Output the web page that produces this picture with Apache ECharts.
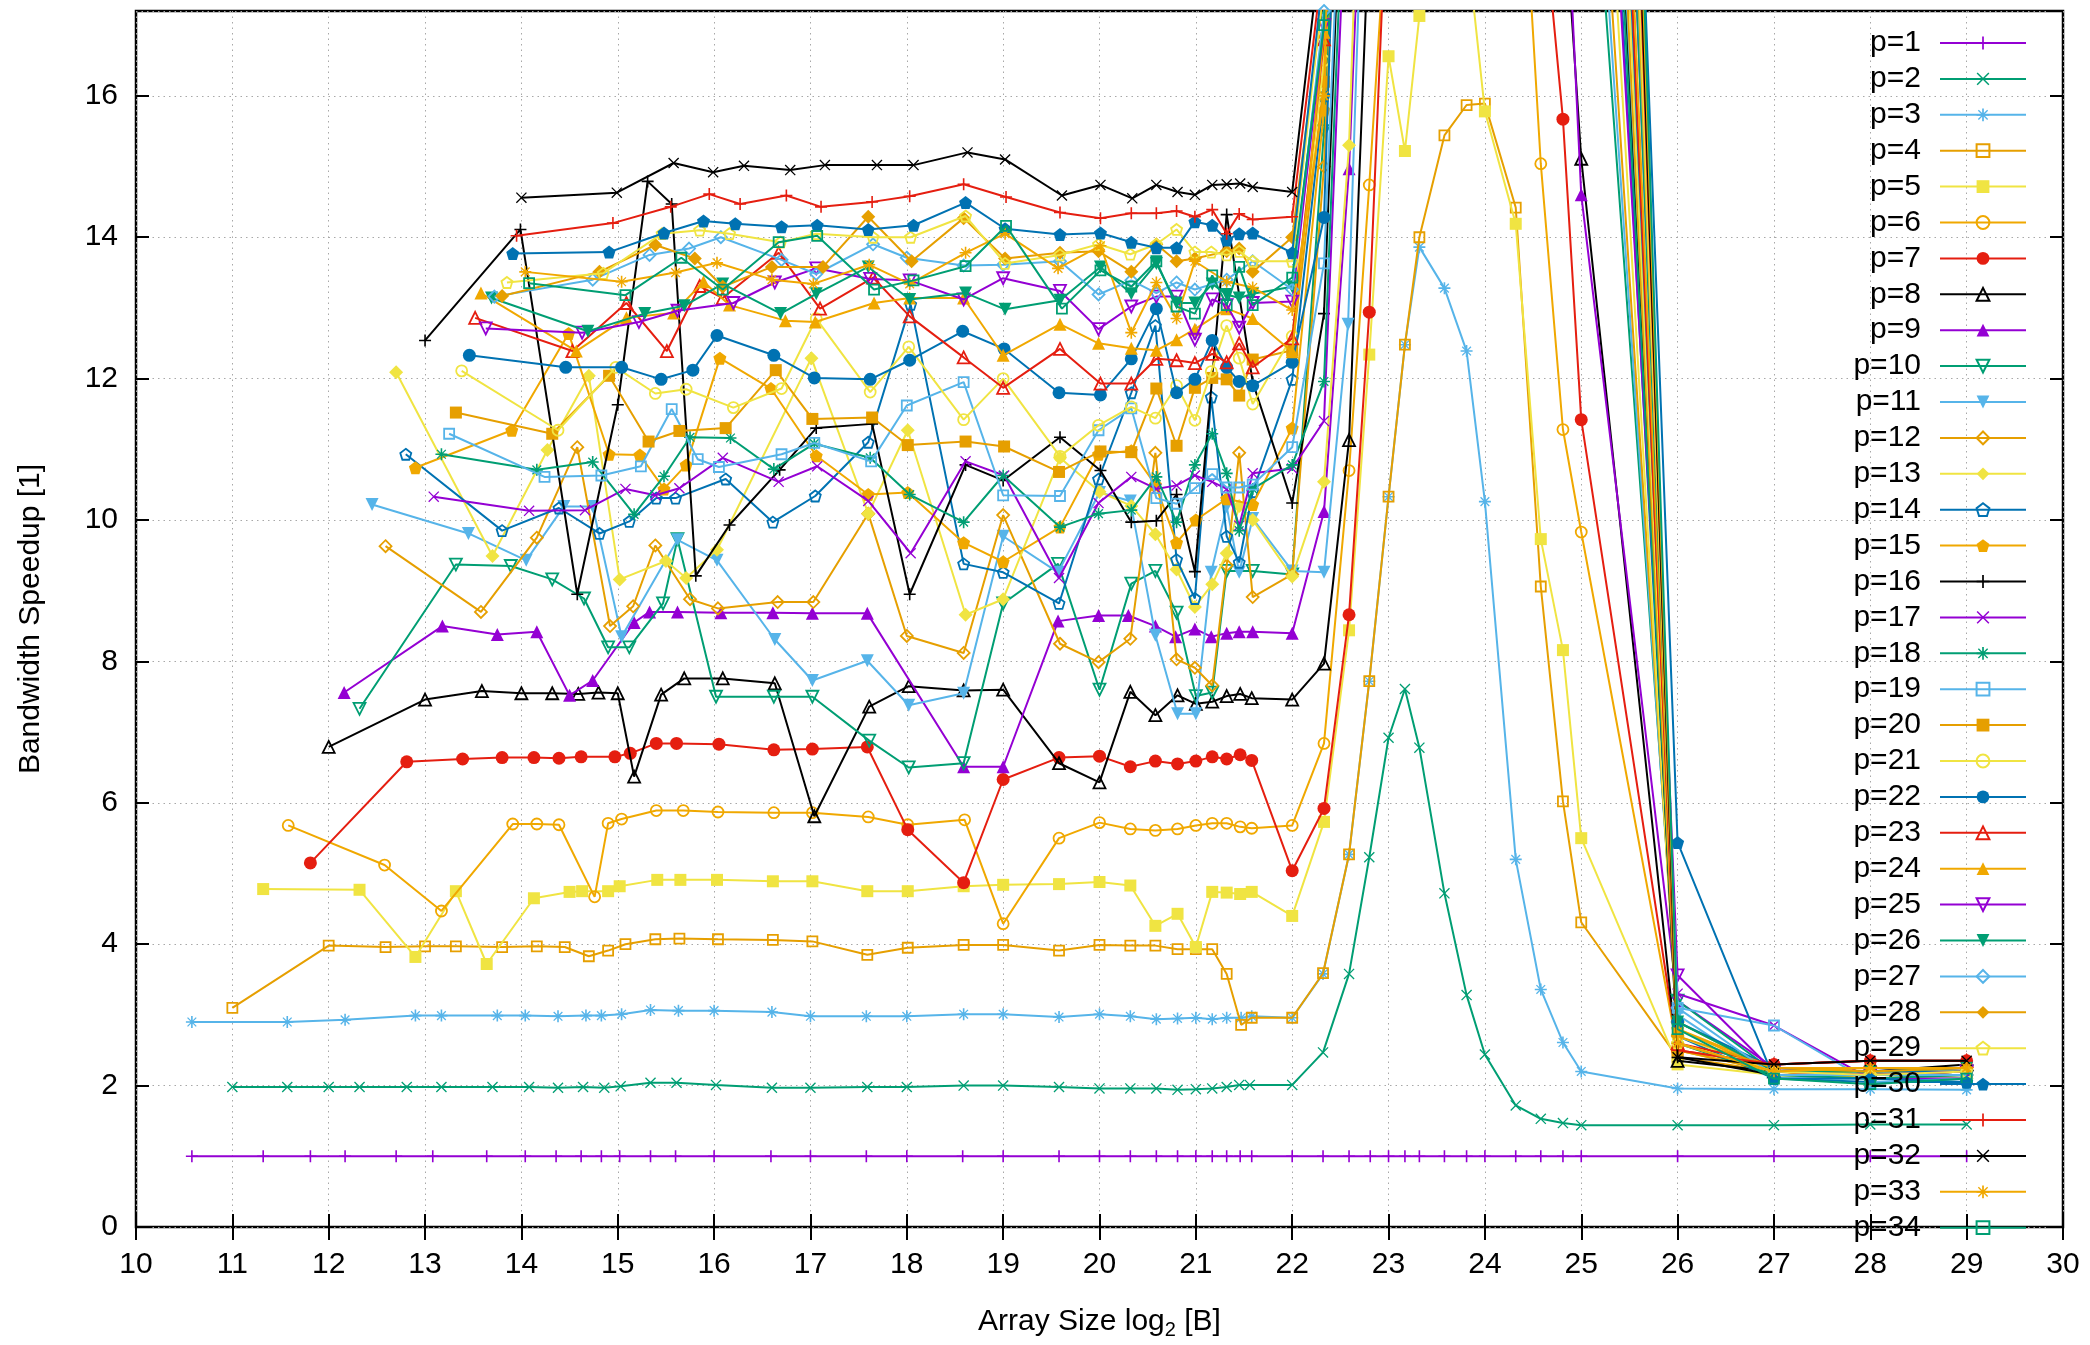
<!DOCTYPE html>
<html><head><meta charset="utf-8">
<script src="https://cdn.jsdelivr.net/npm/echarts@6/dist/echarts.min.js"></script>
<style>html,body{margin:0;padding:0;background:#fff}#c{width:2090px;height:1345px}</style>
</head><body><div id="c"></div>
<script>
// ---------- data: [log2 size, speedup] per thread count ----------
const p1=[[10.58,1],[11.32,1],[11.81,1],[12.17,1],[12.7,1],[13.08,1],[13.64,1],[14.04,1],[14.36,1],[14.62,1],[14.83,1],[15.02,1],[15.34,1],[15.6,1],[16,1],[16.59,1],[17,1],[17.58,1],[18,1],[18.58,1],[19,1],[19.58,1],[20,1],[20.32,1],[20.59,1],[20.81,1],[21,1],[21.17,1],[21.32,1],[21.46,1],[21.58,1],[22,1],[22.32,1],[22.59,1],[22.81,1],[23,1],[23.17,1],[23.32,1],[23.58,1],[23.81,1],[24,1],[24.32,1],[24.58,1],[24.81,1],[25,1],[26,1],[27,1],[28,1],[29,1]];
const p2=[[11,1.98],[11.57,1.98],[12,1.98],[12.32,1.98],[12.81,1.98],[13.17,1.98],[13.7,1.98],[14.08,1.98],[14.38,1.97],[14.64,1.98],[14.86,1.97],[15.03,1.99],[15.34,2.04],[15.61,2.04],[16.02,2.01],[16.6,1.97],[17,1.97],[17.59,1.98],[18,1.98],[18.59,2.0],[19,2.0],[19.58,1.98],[20,1.96],[20.32,1.96],[20.59,1.96],[20.81,1.94],[21,1.95],[21.17,1.96],[21.32,1.98],[21.45,2.01],[21.56,2.01],[22,2.01],[22.32,2.47],[22.59,3.58],[22.8,5.23],[23,6.92],[23.17,7.61],[23.32,6.78],[23.58,4.72],[23.81,3.28],[24,2.44],[24.32,1.72],[24.58,1.53],[24.81,1.47],[25,1.44],[26,1.44],[27,1.44],[28,1.45],[29,1.45]];
const p3=[[10.58,2.9],[11.57,2.9],[12.17,2.93],[12.9,2.99],[13.17,2.99],[13.75,2.99],[14.04,2.99],[14.38,2.98],[14.67,2.99],[14.83,2.99],[15.04,3.01],[15.34,3.07],[15.63,3.06],[16,3.06],[16.6,3.04],[17,2.98],[17.58,2.98],[18,2.98],[18.59,3.01],[19,3.01],[19.58,2.97],[20,3.01],[20.32,2.98],[20.59,2.94],[20.81,2.95],[21,2.96],[21.17,2.94],[21.32,2.96],[21.47,2.96],[21.58,2.98],[22,2.96],[22.32,3.58],[22.59,5.27],[22.8,7.72],[23,10.33],[23.17,12.48],[23.32,13.86],[23.58,13.28],[23.81,12.39],[24,10.26],[24.32,5.2],[24.58,3.36],[24.81,2.61],[25,2.2],[26,1.96],[27,1.95],[28,1.95],[29,1.94]];
const p4=[[11,3.1],[12,3.98],[12.59,3.96],[13,3.97],[13.32,3.97],[13.8,3.96],[14.16,3.97],[14.45,3.96],[14.7,3.83],[14.9,3.91],[15.08,4.0],[15.39,4.07],[15.64,4.08],[16.04,4.07],[16.61,4.06],[17.02,4.04],[17.59,3.85],[18.01,3.95],[18.59,3.99],[19,3.99],[19.58,3.91],[20,3.99],[20.32,3.98],[20.58,3.98],[20.81,3.93],[21,3.93],[21.17,3.93],[21.32,3.58],[21.47,2.86],[21.58,2.96],[22,2.96],[22.32,3.59],[22.59,5.27],[22.8,7.72],[23,10.33],[23.17,12.48],[23.32,14.0],[23.58,15.44],[23.81,15.87],[24,15.89],[24.32,14.42],[24.58,9.06],[24.81,6.02],[25,4.31],[26,2.4],[27,2.2],[28,2.15],[29,2.15]];
const p5=[[11.32,4.78],[12.32,4.77],[12.9,3.82],[13.32,4.75],[13.64,3.72],[14.13,4.65],[14.5,4.74],[14.63,4.75],[14.9,4.75],[15.02,4.82],[15.41,4.91],[15.65,4.91],[16.03,4.91],[16.61,4.89],[17.02,4.89],[17.59,4.75],[18.01,4.75],[18.59,4.82],[19,4.84],[19.58,4.85],[20,4.88],[20.32,4.83],[20.58,4.26],[20.81,4.43],[21,3.96],[21.17,4.74],[21.32,4.73],[21.46,4.71],[21.58,4.74],[22,4.4],[22.33,5.73],[22.59,8.44],[22.8,12.34],[23,16.56],[23.17,15.22],[23.32,17.13],[23.58,18.6],[23.81,18.2],[24,15.78],[24.32,14.19],[24.58,9.73],[24.81,8.16],[25,5.5],[26,2.3],[27,2.15],[28,2.1],[29,2.1]];
const p6=[[11.58,5.68],[12.58,5.12],[13.17,4.47],[13.91,5.7],[14.16,5.7],[14.39,5.69],[14.76,4.67],[14.9,5.71],[15.04,5.77],[15.4,5.89],[15.68,5.89],[16.04,5.87],[16.62,5.86],[17.02,5.86],[17.6,5.8],[18.01,5.69],[18.6,5.76],[19,4.29],[19.58,5.5],[20,5.72],[20.32,5.63],[20.58,5.61],[20.81,5.63],[21,5.68],[21.17,5.71],[21.32,5.71],[21.46,5.66],[21.58,5.64],[22,5.68],[22.33,6.84],[22.59,10.7],[22.8,14.74],[23,19],[23.32,22],[23.58,24],[23.81,25],[24,24],[24.32,21],[24.58,15.04],[24.81,11.28],[25,9.83],[26,2.5],[27,2.2],[28,2.15],[29,2.2]];
const p7=[[11.81,5.15],[12.81,6.58],[13.39,6.62],[13.8,6.64],[14.13,6.64],[14.39,6.63],[14.62,6.65],[14.97,6.65],[15.13,6.7],[15.4,6.84],[15.61,6.84],[16.05,6.83],[16.62,6.75],[17.02,6.76],[17.59,6.79],[18.01,5.62],[18.59,4.87],[19,6.33],[19.58,6.64],[20,6.66],[20.32,6.51],[20.58,6.59],[20.81,6.55],[21,6.59],[21.17,6.65],[21.32,6.62],[21.46,6.68],[21.58,6.6],[22,5.04],[22.33,5.92],[22.59,8.66],[22.8,12.94],[23,19.5],[23.32,24],[23.58,27],[23.81,28],[24,27],[24.32,25],[24.58,19],[24.81,15.67],[25,11.42],[26,2.5],[27,2.3],[28,2.35],[29,2.35]];
const p8=[[12,6.79],[13,7.46],[13.59,7.58],[14,7.55],[14.32,7.55],[14.59,7.54],[14.8,7.56],[15,7.55],[15.17,6.37],[15.45,7.53],[15.69,7.76],[16.09,7.76],[16.63,7.69],[17.04,5.81],[17.61,7.36],[18.02,7.65],[18.59,7.59],[19,7.6],[19.58,6.56],[20,6.29],[20.32,7.57],[20.58,7.24],[20.81,7.52],[21,7.4],[21.17,7.43],[21.32,7.51],[21.46,7.54],[21.58,7.48],[22,7.46],[22.33,7.97],[22.59,11.13],[22.8,18.5],[23,25],[23.32,30],[23.58,32],[23.81,32],[24,30],[24.32,28],[24.58,22],[24.81,19],[25,15.11],[26,2.35],[27,2.2],[28,2.2],[29,2.3]];
const p9=[[12.16,7.56],[13.18,8.5],[13.75,8.38],[14.16,8.42],[14.5,7.52],[14.74,7.73],[15.17,8.55],[15.33,8.7],[15.62,8.7],[16.07,8.69],[16.61,8.69],[17.02,8.68],[17.59,8.68],[18.59,6.51],[19,6.51],[19.57,8.57],[19.99,8.65],[20.3,8.65],[20.58,8.5],[20.79,8.35],[20.99,8.46],[21.16,8.35],[21.32,8.4],[21.45,8.42],[21.59,8.42],[22,8.4],[22.33,10.12],[22.59,14.97],[22.8,22],[23,28],[23.32,34],[23.58,38],[23.81,40],[24,38],[24.32,35],[24.58,28],[24.81,20],[25,14.6],[26,3.2],[27,2.25],[28,2.2],[29,2.25]];
const p10=[[12.32,7.33],[13.32,9.37],[13.89,9.35],[14.32,9.16],[14.65,8.89],[14.9,8.2],[15.12,8.2],[15.47,8.82],[15.62,9.73],[16.02,7.5],[16.62,7.5],[17.02,7.5],[17.61,6.88],[18.02,6.5],[18.59,6.56],[19,8.82],[19.57,9.38],[20,7.6],[20.33,9.1],[20.58,9.28],[20.8,8.69],[21,7.51],[21.17,7.56],[21.32,9.28],[21.59,9.28],[22,9.23],[22.33,15.5],[22.59,24],[23,35],[24,45],[25,22],[26,3.2],[27,2.2],[28,2.15],[29,2.2]];
const p11=[[12.45,10.22],[13.45,9.81],[14.05,9.43],[14.44,10.19],[14.74,10.19],[15.04,8.35],[15.62,9.72],[16.03,9.43],[16.63,8.31],[17.02,7.73],[17.59,8.01],[18.02,7.38],[18.59,7.55],[19,9.77],[19.57,9.26],[20,10.39],[20.32,10.27],[20.58,8.37],[20.81,7.26],[21,7.26],[21.16,9.26],[21.32,10.19],[21.45,9.26],[21.59,10.02],[22,9.28],[22.33,9.26],[22.58,12.77],[22.8,22],[23,30],[24,42],[25,23],[26,3.0],[27,2.1],[28,2.1],[29,2.1]];
const p12=[[12.59,9.63],[13.58,8.7],[14.16,9.75],[14.58,11.03],[14.92,8.5],[15.16,8.78],[15.39,9.64],[15.75,8.88],[16.04,8.75],[16.66,8.84],[17.03,8.84],[17.6,10.09],[18,8.36],[18.59,8.12],[19,10.07],[19.59,8.25],[19.99,7.99],[20.32,8.32],[20.58,10.95],[20.8,8.03],[20.99,7.91],[21.17,7.66],[21.32,9.36],[21.45,10.95],[21.59,8.91],[22,9.23],[22.33,15.0],[22.59,23],[23,33],[24,44],[25,24],[26,2.9],[27,2.2],[28,2.1],[29,2.15]];
const p13=[[12.7,12.09],[13.7,9.49],[14.27,10.99],[14.7,12.04],[15.02,9.16],[15.5,9.42],[15.71,9.18],[16.03,9.58],[17.01,12.29],[17.6,10.09],[18.01,11.27],[18.61,8.66],[19,8.88],[19.59,10.88],[20,10.4],[20.33,10.2],[20.58,9.8],[20.8,9.3],[20.99,8.77],[21.17,9.09],[21.32,9.53],[21.45,10.2],[21.59,10.0],[22,9.2],[22.33,10.54],[22.59,15.3],[22.8,24],[23,32],[24,46],[25,26],[26,2.6],[27,2.15],[28,2.1],[29,2.1]];
const p14=[[12.8,10.93],[13.8,9.85],[14.39,10.17],[14.81,9.81],[15.12,9.98],[15.4,10.31],[15.6,10.31],[16.12,10.58],[16.61,9.97],[17.05,10.34],[17.6,11.1],[18.04,13.05],[18.59,9.38],[19,9.26],[19.58,8.82],[19.99,10.58],[20.33,11.8],[20.58,12.75],[20.8,9.44],[20.99,8.89],[21.16,11.74],[21.32,9.77],[21.45,9.4],[21.59,10.4],[22,11.99],[22.33,16.0],[22.59,25],[23,34],[24,48],[25,28],[26,2.7],[27,2.1],[28,2.05],[29,2.05]];
const p15=[[12.9,10.74],[13.9,11.27],[14.49,12.64],[14.91,10.93],[15.23,10.92],[15.48,10.44],[15.71,10.78],[16.06,12.29],[16.59,11.86],[17.06,10.91],[17.6,10.36],[18.01,10.39],[18.59,9.68],[19,9.41],[19.59,9.9],[19.99,10.93],[20.33,10.98],[20.58,10.5],[20.8,9.68],[21,10.0],[21.32,10.3],[21.59,10.22],[22,11.3],[22.33,15.8],[22.59,25],[23,35],[24,50],[25,30],[26,2.8],[27,2.2],[28,2.2],[29,2.2]];
const p16=[[13,12.54],[13.99,14.11],[14.58,8.95],[15,11.63],[15.31,14.79],[15.56,14.47],[15.81,9.21],[16.16,9.93],[16.68,10.71],[17.06,11.3],[17.64,11.36],[18.03,8.95],[18.61,10.78],[19,10.56],[19.59,11.17],[20.01,10.7],[20.33,9.97],[20.59,9.99],[20.8,10.36],[20.99,9.27],[21.32,14.32],[21.59,11.95],[22,10.24],[22.33,12.92],[22.59,22],[23,36],[24,50],[25,30],[26,2.4],[27,2.15],[28,2.15],[29,2.2]];
const p17=[[13.09,10.33],[14.08,10.13],[14.66,10.14],[15.08,10.44],[15.39,10.35],[15.64,10.45],[16.09,10.88],[16.67,10.54],[17.07,10.76],[17.6,10.27],[18.04,9.53],[18.61,10.83],[19.01,10.63],[19.58,9.18],[19.99,10.24],[20.33,10.61],[20.59,10.44],[20.8,10.49],[20.99,10.63],[21.17,10.54],[21.32,10.44],[21.45,9.92],[21.59,10.66],[22,10.73],[22.33,11.4],[22.59,20],[23,33],[24,47],[25,27],[26,3.3],[27,2.85],[28,2.1],[29,2.1]];
const p18=[[13.17,10.93],[14.16,10.71],[14.74,10.82],[15.17,10.08],[15.48,10.62],[15.75,11.17],[16.17,11.16],[16.62,10.72],[17.04,11.08],[17.62,10.88],[18.03,10.36],[18.59,9.97],[19,10.63],[19.59,9.9],[19.99,10.09],[20.33,10.14],[20.59,10.61],[20.8,9.97],[20.99,10.78],[21.17,11.22],[21.32,10.66],[21.45,9.85],[21.59,10.44],[22,10.78],[22.33,11.96],[22.59,21],[23,34],[24,48],[25,29],[26,2.6],[27,2.15],[28,2.1],[29,2.15]];
const p19=[[13.25,11.22],[14.24,10.61],[14.83,10.63],[15.24,10.76],[15.56,11.57],[15.83,10.86],[16.05,10.75],[16.7,10.93],[17.04,11.09],[17.63,10.83],[18,11.62],[18.59,11.95],[19,10.35],[19.59,10.34],[19.99,11.27],[20.33,11.58],[20.59,10.31],[20.8,10.23],[20.99,10.45],[21.17,10.65],[21.32,10.46],[21.45,10.46],[21.59,10.5],[22,11.03],[22.33,13.63],[22.59,22],[23,35],[24,48],[25,30],[26,3.1],[27,2.85],[28,2.05],[29,2.1]];
const p20=[[13.32,11.52],[14.32,11.22],[14.91,12.04],[15.32,11.11],[15.64,11.26],[16.12,11.3],[16.64,12.12],[17.02,11.43],[17.64,11.45],[18.01,11.06],[18.61,11.11],[19.01,11.04],[19.58,10.68],[20.01,10.97],[20.33,10.96],[20.59,11.86],[20.8,11.05],[20.99,11.87],[21.17,12.01],[21.32,11.99],[21.45,11.76],[21.59,12.27],[22,12.4],[22.33,16.2],[22.59,26],[23,36],[24,50],[25,31],[26,2.5],[27,2.2],[28,2.15],[29,2.2]];
const p21=[[13.38,12.11],[14.38,11.27],[14.98,12.16],[15.39,11.79],[15.71,11.85],[16.2,11.59],[16.7,11.86],[17.06,12.85],[17.62,11.81],[18.02,12.45],[18.59,11.42],[19,12.0],[19.59,10.9],[19.99,11.34],[20.33,11.6],[20.58,11.44],[20.8,11.9],[20.99,11.41],[21.16,12.1],[21.32,12.75],[21.45,12.29],[21.59,11.64],[22,12.6],[22.33,16.5],[22.59,26],[23,37],[24,50],[25,32],[26,2.7],[27,2.2],[28,2.2],[29,2.2]];
const p22=[[13.46,12.33],[14.46,12.16],[15.04,12.16],[15.45,11.99],[15.78,12.12],[16.03,12.61],[16.62,12.33],[17.04,12.01],[17.62,11.99],[18.03,12.26],[18.58,12.67],[19.01,12.42],[19.58,11.8],[20.01,11.77],[20.33,12.28],[20.59,12.99],[20.8,11.8],[20.99,11.99],[21.17,12.54],[21.32,12.16],[21.45,11.96],[21.59,11.9],[22,12.23],[22.33,14.28],[22.59,25],[23,38],[24,52],[25,33],[26,2.9],[27,2.25],[28,2.2],[29,2.2]];
const p23=[[13.52,12.86],[14.53,12.39],[15.09,13.07],[15.51,12.39],[15.85,13.31],[16.09,13.14],[16.67,13.78],[17.1,12.99],[17.65,13.43],[18.03,12.88],[18.59,12.3],[19,11.87],[19.59,12.42],[20.01,11.93],[20.33,11.93],[20.59,12.28],[20.8,12.26],[20.99,12.22],[21.17,12.35],[21.32,12.23],[21.45,12.5],[21.59,12.16],[22,12.57],[22.33,16.8],[22.59,27],[23,38],[24,52],[25,34],[26,2.6],[27,2.3],[28,2.35],[29,2.35]];
const p24=[[13.58,13.21],[14.57,12.39],[15.09,12.86],[15.58,12.93],[15.89,13.37],[16.16,13.04],[16.74,12.82],[17.05,12.8],[17.66,13.07],[18.03,13.14],[18.59,13.14],[19,12.33],[19.59,12.77],[19.99,12.5],[20.33,12.43],[20.59,12.4],[20.8,12.55],[20.99,12.7],[21.32,12.99],[21.59,12.85],[22,12.38],[22.33,16.9],[22.59,27],[23,39],[24,53],[25,35],[26,2.8],[27,2.25],[28,2.25],[29,2.25]];
const p25=[[13.63,12.71],[14.63,12.65],[15.22,12.8],[15.62,12.96],[16.2,13.07],[16.63,13.36],[17.06,13.56],[17.62,13.41],[18.03,13.39],[18.59,13.12],[19,13.42],[19.59,13.24],[19.99,12.7],[20.33,13.02],[20.59,13.16],[20.8,13.16],[20.99,12.55],[21.17,13.12],[21.32,13.04],[21.45,12.72],[21.59,13.07],[22,13.09],[22.33,17.0],[22.59,28],[23,40],[24,54],[25,36],[26,3.56],[27,2.2],[28,2.15],[29,2.2]];
const p26=[[13.69,13.14],[14.69,12.67],[15.28,12.92],[15.69,13.03],[16.09,13.34],[16.69,12.92],[17.06,13.2],[17.6,13.58],[18.03,13.12],[18.61,13.21],[19.02,12.98],[19.59,13.11],[20.01,13.58],[20.33,13.2],[20.59,13.63],[20.8,13.07],[20.99,13.07],[21.17,13.34],[21.32,13.19],[21.45,13.14],[21.59,13.2],[22,13.3],[22.33,17.1],[22.59,28],[23,40],[24,55],[25,37],[26,2.9],[27,2.2],[28,2.2],[29,2.25]];
const p27=[[13.72,13.16],[14.74,13.4],[15.33,13.75],[15.74,13.84],[16.07,14.0],[16.7,13.68],[17.06,13.48],[17.65,13.9],[18,13.71],[18.59,13.6],[19,13.61],[19.59,13.66],[19.99,13.19],[20.33,13.39],[20.59,13.21],[20.8,13.36],[20.99,13.26],[21.32,13.4],[21.59,13.66],[22,13.26],[22.33,17.2],[22.59,29],[23,41],[24,56],[25,38],[26,3.1],[27,2.15],[28,2.15],[29,2.15]];
const p28=[[13.8,13.17],[14.81,13.51],[15.39,13.89],[15.8,13.7],[16.09,13.3],[16.6,13.58],[17.13,13.58],[17.6,14.29],[18.05,13.66],[18.59,14.27],[19.02,13.7],[19.59,13.78],[19.99,13.8],[20.33,13.51],[20.59,13.9],[20.8,13.66],[20.99,13.7],[21.32,13.8],[21.45,13.84],[21.59,13.51],[22,14.0],[22.33,17.5],[22.59,29],[23,41],[24,56],[25,39],[26,2.7],[27,2.25],[28,2.2],[29,2.25]];
const p29=[[13.85,13.36],[14.85,13.49],[15.46,14.05],[15.85,14.1],[16.16,14.05],[16.69,13.93],[17.06,14.05],[17.65,14.0],[18.04,14.0],[18.61,14.3],[19.02,13.63],[19.59,13.75],[19.99,13.9],[20.32,13.76],[20.59,13.9],[20.8,14.11],[20.99,13.79],[21.16,13.79],[21.32,13.75],[21.45,13.8],[21.59,13.66],[22,13.66],[22.33,17.6],[22.59,30],[23,42],[24,57],[25,40],[26,2.6],[27,2.2],[28,2.15],[29,2.2]];
const p30=[[13.91,13.77],[14.91,13.79],[15.48,14.06],[15.89,14.23],[16.22,14.19],[16.7,14.15],[17.07,14.17],[17.6,14.11],[18.07,14.17],[18.61,14.49],[19.02,14.12],[19.59,14.04],[20.01,14.06],[20.33,13.93],[20.59,13.85],[20.8,13.85],[20.99,14.22],[21.17,14.17],[21.32,13.96],[21.45,14.05],[21.59,14.06],[22,13.78],[22.33,17.8],[22.59,30],[23,42],[24,58],[25,41],[26,5.44],[27,2.1],[28,2.1],[29,2.05]];
const p31=[[13.95,14.02],[14.95,14.2],[15.55,14.43],[15.95,14.61],[16.27,14.47],[16.75,14.59],[17.11,14.43],[17.64,14.5],[18.03,14.58],[18.59,14.75],[19.03,14.57],[19.59,14.35],[20.01,14.27],[20.33,14.34],[20.59,14.34],[20.8,14.37],[20.99,14.29],[21.17,14.39],[21.32,14.05],[21.45,14.33],[21.59,14.25],[22,14.29],[22.33,18],[22.59,31],[23,43],[24,58],[25,42],[26,2.5],[27,2.3],[28,2.35],[29,2.35]];
const p32=[[14,14.56],[14.99,14.63],[15.58,15.05],[15.99,14.92],[16.31,15.01],[16.79,14.95],[17.15,15.02],[17.69,15.02],[18.07,15.02],[18.63,15.2],[19.02,15.1],[19.61,14.59],[20.01,14.74],[20.34,14.55],[20.59,14.74],[20.81,14.64],[20.99,14.6],[21.17,14.74],[21.32,14.75],[21.46,14.76],[21.59,14.71],[22,14.64],[22.33,18.5],[22.59,31],[23,43],[24,59],[25,43],[26,2.4],[27,2.3],[28,2.35],[29,2.35]];
const p33=[[14.04,13.51],[15.04,13.37],[15.6,13.5],[16.03,13.64],[16.6,13.4],[17.03,13.34],[17.61,13.61],[18.03,13.34],[18.61,13.78],[19.02,14.05],[19.57,13.56],[20.01,13.88],[20.33,12.65],[20.59,13.36],[20.8,12.85],[20.99,13.66],[21.32,13.37],[21.59,13.29],[22,12.97],[22.33,16.0],[22.59,31],[23,44],[24,60],[25,44],[26,2.6],[27,2.2],[28,2.25],[29,2.25]];
const p34=[[14.08,13.35],[15.08,13.18],[15.66,13.71],[16.09,13.26],[16.67,13.93],[17.07,14.02],[17.66,13.26],[18.07,13.39],[18.61,13.59],[19.03,14.16],[19.61,12.99],[20.01,13.53],[20.33,13.3],[20.59,13.66],[20.8,13.02],[20.99,12.92],[21.17,13.46],[21.32,13.04],[21.45,13.58],[21.59,13.04],[22,13.43],[22.33,17.0],[22.59,32],[23,44],[24,60],[25,45],[26,2.8],[27,2.1],[28,2.02],[29,2.1]];
const seriesData=[p1,p2,p3,p4,p5,p6,p7,p8,p9,p10,p11,p12,p13,p14,p15,p16,p17,p18,p19,p20,p21,p22,p23,p24,p25,p26,p27,p28,p29,p30,p31,p32,p33,p34];
const seriesNames=seriesData.map((d,i)=>'p='+(i+1));
const xTicks=[10,30,1];
const yTicks=[0,17.2,2];

// ---------- styles ----------
const COL={pu:'#9400d3',gr:'#009e73',lb:'#56b4e9',or:'#e69f00',ye:'#f0e442',go:'#f0a800',bl:'#0072b2',re:'#e51e10',bk:'#000000'};
const PLUS='path://M-0.8,-6L0.8,-6L0.8,-0.8L6,-0.8L6,0.8L0.8,0.8L0.8,6L-0.8,6L-0.8,0.8L-6,0.8L-6,-0.8L-0.8,-0.8Z';
const CROSS='path://M-6,-5L-5,-6L6,5L5,6ZM5,-6L6,-5L-5,6L-6,5Z';
const STAR='path://M-0.8,-6L0.8,-6L0.8,6L-0.8,6ZM-6,-0.8L6,-0.8L6,0.8L-6,0.8ZM-4.8,-3.9L-3.9,-4.8L4.8,3.9L3.9,4.8ZM3.9,-4.8L4.8,-3.9L-3.9,4.8L-4.8,3.9Z';
const INV='path://M-6,-5L6,-5L0,5.5Z';
const PENT='path://M0,-6L5.7,-1.85L3.53,4.85L-3.53,4.85L-5.7,-1.85Z';
const SYM={
 plus:[PLUS,12,false],cross:[CROSS,11,false],star:[STAR,12,false],
 osq:['rect',10,true],fsq:['rect',12,false],
 oci:['circle',11,true],fci:['circle',13,false],
 otr:['triangle',12,true],ftr:['triangle',13,false],
 oin:[INV,12,true],fin:[INV,13,false],
 odi:['diamond',12,true],fdi:['diamond',14,false],
 ope:[PENT,11,true],fpe:[PENT,13,false]
};
const STY=[
 ['pu','plus'],['gr','cross'],['lb','star'],['or','osq'],['ye','fsq'],['go','oci'],['re','fci'],['bk','otr'],
 ['pu','ftr'],['gr','oin'],['lb','fin'],['or','odi'],['ye','fdi'],['bl','ope'],['go','fpe'],['bk','plus'],
 ['pu','cross'],['gr','star'],['lb','osq'],['or','fsq'],['ye','oci'],['bl','fci'],['re','otr'],['go','ftr'],
 ['pu','oin'],['gr','fin'],['lb','odi'],['or','fdi'],['ye','ope'],['bl','fpe'],['re','plus'],['bk','cross'],
 ['go','star'],['gr','osq']
];

const FONT='"Liberation Sans", Arial, Helvetica, sans-serif';
const series=seriesData.map((d,i)=>{
  const c=COL[STY[i][0]]; const s=SYM[STY[i][1]];
  return {
    name:seriesNames[i], type:'line', data:d, symbol:s[0], symbolSize:s[1], showSymbol:true,
    clip:true, z:2+i*0.01,
    lineStyle:{color:c,width:2},
    itemStyle:s[2]?{color:'rgba(255,255,255,0)',borderColor:c,borderWidth:1.8}:{color:c,borderWidth:0},
    emphasis:{disabled:true}
  };
});

const chart=echarts.init(document.getElementById('c'),null,{renderer:'canvas'});
const splitStyle={show:true,lineStyle:{color:'#a8a8a8',width:1,type:[1.5,4]}};
chart.setOption({
  animation:false,
  backgroundColor:'#fff',
  textStyle:{fontFamily:FONT},
  grid:{left:136,right:27,top:11,bottom:112,show:true,borderColor:'#000',borderWidth:2.5,backgroundColor:'transparent'},
  xAxis:[
    {type:'value',min:xTicks[0],max:xTicks[1],interval:xTicks[2],position:'bottom',
     axisLine:{show:false},axisTick:{show:true,inside:true,length:13,lineStyle:{color:'#000',width:2}},
     axisLabel:{fontSize:30,color:'#000',margin:23,fontFamily:FONT},
     splitLine:splitStyle,
     name:'{a|Array Size log}{s|2}{a| [B]}',nameLocation:'middle',nameGap:77,
     nameTextStyle:{color:'#000',fontFamily:FONT,rich:{a:{fontSize:30,color:'#000',fontFamily:FONT},s:{fontSize:20,color:'#000',fontFamily:FONT,padding:[16,0,0,0]}}}},
    {type:'value',min:xTicks[0],max:xTicks[1],interval:xTicks[2],position:'top',
     axisLine:{show:false},axisTick:{show:true,inside:true,length:13,lineStyle:{color:'#000',width:2}},
     axisLabel:{show:false},splitLine:{show:false}}
  ],
  yAxis:[
    {type:'value',min:yTicks[0],max:yTicks[1],interval:yTicks[2],position:'left',
     axisLine:{show:false},axisTick:{show:true,inside:true,length:13,lineStyle:{color:'#000',width:2}},
     axisLabel:{fontSize:30,color:'#000',margin:18,showMaxLabel:false,fontFamily:FONT},
     splitLine:splitStyle,
     name:'Bandwidth Speedup [1]',nameLocation:'middle',nameGap:90,nameRotate:90,
     nameTextStyle:{fontSize:30,color:'#000',fontFamily:FONT}},
    {type:'value',min:yTicks[0],max:yTicks[1],interval:yTicks[2],position:'right',
     axisLine:{show:false},axisTick:{show:true,inside:true,length:13,lineStyle:{color:'#000',width:2}},
     axisLabel:{show:false},splitLine:{show:false}}
  ],
  legend:{
    data:seriesNames, orient:'vertical', right:63, top:28, padding:0,
    align:'right', itemWidth:86, itemHeight:16, itemGap:5.9, selectedMode:false,
    formatter:n=>'{a|'+n+'}',
    textStyle:{color:'#000',fontFamily:FONT,rich:{a:{fontSize:30,lineHeight:30,width:100,align:'right',color:'#000',fontFamily:FONT,padding:[0,14,0,0]}}}
  },
  series:series
});
</script></body></html>
